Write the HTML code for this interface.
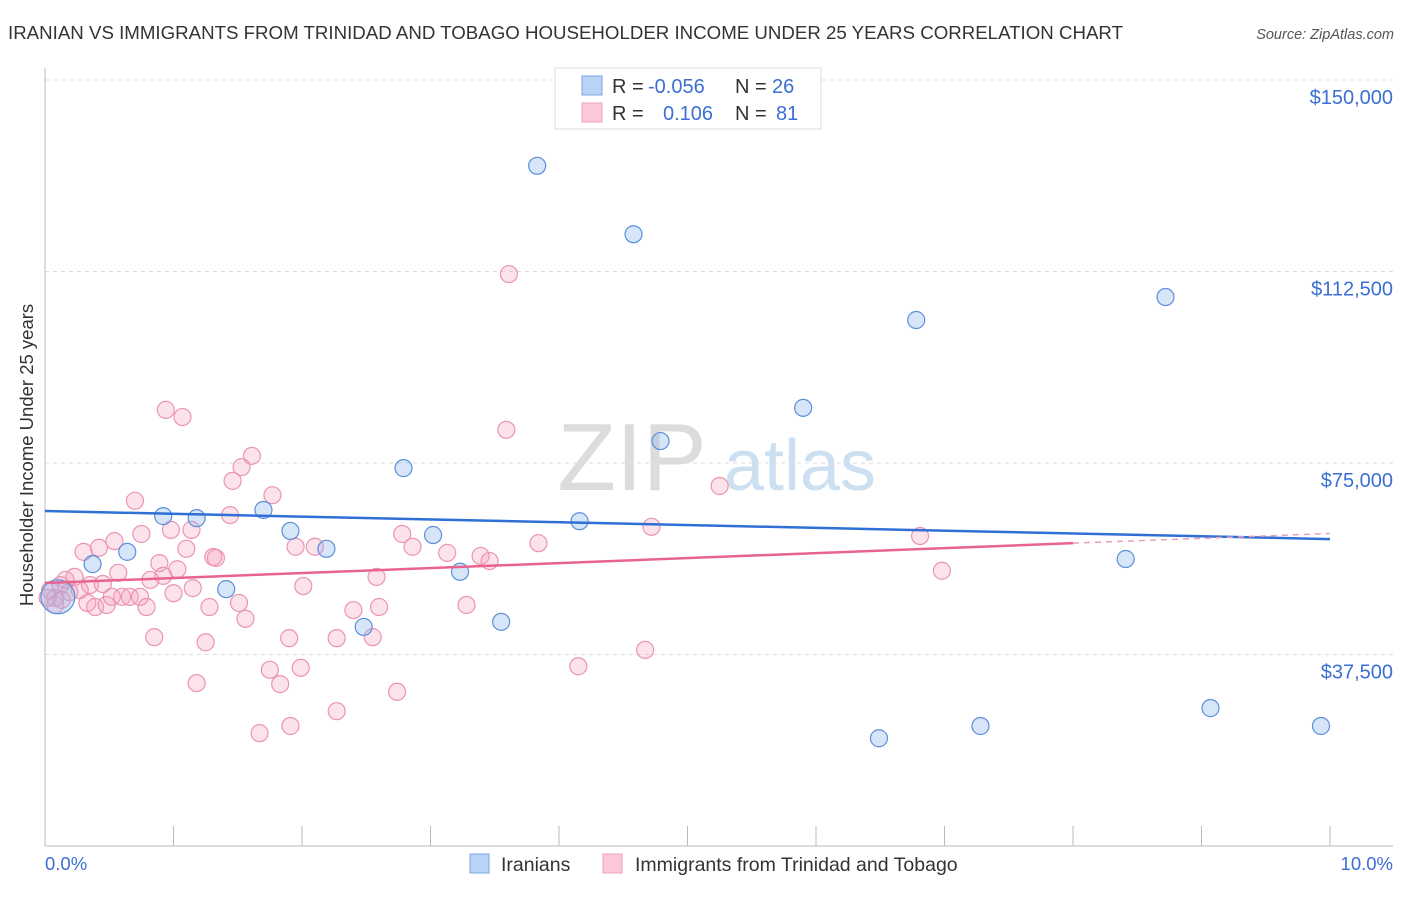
<!DOCTYPE html>
<html><head><meta charset="utf-8"><style>
body{margin:0;background:#fff;font-family:"Liberation Sans",sans-serif;}
svg text{font-family:"Liberation Sans",sans-serif;}
</style></head><body>
<svg id="chart" width="1406" height="892">
<text x="8" y="39" font-size="18.6" fill="#333" textLength="1115" lengthAdjust="spacingAndGlyphs">IRANIAN VS IMMIGRANTS FROM TRINIDAD AND TOBAGO HOUSEHOLDER INCOME UNDER 25 YEARS CORRELATION CHART</text>
<text x="1394" y="39" font-size="14.5" fill="#555" font-style="italic" text-anchor="end">Source: ZipAtlas.com</text>
<g><text x="632" y="490" font-size="96" font-family="Liberation Serif,serif" fill="#dcdcdc" text-anchor="middle">ZIP</text><text x="800" y="490" font-size="72" fill="#cde0f2" text-anchor="middle">atlas</text></g>
<g id="grid"></g>
<g id="axes"></g>
<g id="marks"></g>
<g>
<rect x="555" y="68" width="266" height="61" fill="#fff" stroke="#ddd"/>
<rect x="582" y="76" width="20" height="19" fill="#b8d3f5" stroke="#7aaae6"/>
<rect x="582" y="103" width="20" height="19" fill="#fcc8d8" stroke="#f0a0b8"/>
<text x="612" y="93" font-size="20" fill="#333">R =<tspan x="648" fill="#3b6fd4">-0.056</tspan><tspan x="735">N =</tspan><tspan x="772" fill="#3b6fd4">26</tspan></text>
<text x="612" y="120" font-size="20" fill="#333">R =<tspan x="663" fill="#3b6fd4">0.106</tspan><tspan x="735">N =</tspan><tspan x="776" fill="#3b6fd4">81</tspan></text>
</g>
<g>
<rect x="470" y="854" width="19" height="19" fill="#b8d3f5" stroke="#7aaae6"/>
<text x="501" y="871" font-size="19.5" fill="#333">Iranians</text>
<rect x="603" y="854" width="19" height="19" fill="#fcc8d8" stroke="#f0a0b8"/>
<text x="635" y="871" font-size="19.5" fill="#333">Immigrants from Trinidad and Tobago</text>
</g>
</svg>
<script>
const yTicks=[37.5,75,112.5,150];
const yTickLabels=["$37,500","$75,000","$112,500","$150,000"];
const xTicks=[0,1,2,3,4,5,6,7,8,9,10];
const xEndLabels=["0.0%","10.0%"];
const blueX=[3.83,4.58,6.78,8.72,5.90,4.79,2.79,4.16,3.02,3.23,3.55,2.48,1.70,1.18,0.92,0.64,0.37,0.10,1.41,1.91,2.19,8.41,6.49,7.28,9.07,9.93];
const blueY=[133.2,119.8,103.0,107.5,85.8,79.3,74.0,63.6,60.9,53.7,43.9,42.9,65.8,64.2,64.6,57.6,55.2,48.8,50.3,61.7,58.2,56.2,21.1,23.5,27.0,23.5];
const pinkX=[0.94,1.07,1.61,1.53,1.46,0.70,1.77,1.44,0.98,1.14,0.75,0.54,0.42,0.30,1.10,0.89,1.03,0.57,1.31,1.33,0.82,0.92,0.35,0.45,1.15,1.00,0.33,0.39,0.48,0.52,0.60,0.66,0.74,0.79,1.28,1.51,1.56,1.95,2.10,2.01,2.58,2.40,2.60,2.55,2.27,1.90,0.85,1.25,1.75,1.99,1.83,1.18,2.74,2.27,1.91,1.67,2.78,2.86,3.13,3.28,3.39,3.61,3.59,3.84,3.46,4.15,4.67,4.72,5.25,6.81,6.98,0.04,0.08,0.12,0.16,0.19,0.23,0.27,0.02,0.08,0.13];
const pinkY=[85.4,84.0,76.4,74.2,71.5,67.6,68.7,64.8,61.9,61.9,61.1,59.7,58.4,57.6,58.2,55.4,54.2,53.5,56.6,56.4,52.1,52.9,51.1,51.3,50.5,49.5,47.6,46.8,47.2,48.8,48.8,48.8,48.8,46.8,46.8,47.6,44.5,58.6,58.6,50.9,52.7,46.2,46.8,40.9,40.7,40.7,40.9,39.9,34.5,34.9,31.7,31.9,30.2,26.4,23.5,22.1,61.1,58.6,57.4,47.2,56.8,112.0,81.5,59.3,55.8,35.2,38.4,62.5,70.5,60.7,53.9,50.1,48.6,51.1,52.1,49.7,52.7,50.1,48.6,47.2,48.2];
const blueTrend=[65.6,60.1];
const pinkTrend=[51.5,59.3,61.2];
const pinkTrendX=[0,8,10];

const NS="http://www.w3.org/2000/svg";
const X0=45,X1=1330,YB=846,YT=80;
const sx=v=>X0+(X1-X0)*v/10;
const sy=v=>YB-(YB-YT)*v/150;
function mk(tag,attrs,parent){const e=document.createElementNS(NS,tag);for(const k in attrs)e.setAttribute(k,attrs[k]);parent.appendChild(e);return e;}
const grid=document.getElementById('grid'),axes=document.getElementById('axes'),marks=document.getElementById('marks');
yTicks.forEach((t,i)=>{
 const l=mk('line',{x1:X0,x2:1393,y1:sy(t),y2:sy(t),stroke:'#ddd','stroke-dasharray':'4,4'},grid);
 
 
 const tx=mk('text',{x:1393,y:sy(t)+24,'font-size':20,fill:'#3b6fd4','text-anchor':'end'},axes);
 tx.textContent=yTickLabels[i];
 
 
});
const ya=mk('line',{x1:X0,x2:X0,y1:68,y2:YB,stroke:'#bbb'},axes);


const xa=mk('line',{x1:X0,x2:1393,y1:YB,y2:YB,stroke:'#bbb'},axes);


xTicks.forEach(t=>{
 const l=mk('line',{x1:sx(t),x2:sx(t),y1:826,y2:YB,stroke:'#bbb'},axes);
 
 
});
const xl0=mk('text',{x:45,y:870,'font-size':18.5,fill:'#3b6fd4'},axes);xl0.textContent=xEndLabels[0];


const xl1=mk('text',{x:1393,y:870,'font-size':18.5,fill:'#3b6fd4','text-anchor':'end'},axes);xl1.textContent=xEndLabels[1];


const yt=mk('text',{transform:'translate(33,455) rotate(-90)','font-size':18.5,fill:'#333','text-anchor':'middle'},axes);
yt.textContent='Householder Income Under 25 years';


pinkX.forEach((x,i)=>{
 const c=mk('circle',{cx:sx(x),cy:sy(pinkY[i]),r:8.5,fill:'rgba(245,160,190,0.3)',stroke:'#eb94b2','stroke-width':1.2},marks);
 
 
});
blueX.forEach((x,i)=>{
 const c=mk('circle',{cx:sx(x),cy:sy(blueY[i]),r:i===17?17:8.5,fill:'rgba(140,180,235,0.35)',stroke:'#5b8fd9','stroke-width':1.2},marks);
 
 
});
const bt=mk('line',{x1:sx(0),y1:sy(blueTrend[0]),x2:sx(10),y2:sy(blueTrend[1]),stroke:'#2f6fd6','stroke-width':2.5},marks);


const pt=mk('line',{x1:sx(pinkTrendX[0]),y1:sy(pinkTrend[0]),x2:sx(pinkTrendX[1]),y2:sy(pinkTrend[1]),stroke:'#e8648f','stroke-width':2.5},marks);


const pd=mk('line',{x1:sx(pinkTrendX[1]),y1:sy(pinkTrend[1]),x2:sx(pinkTrendX[2]),y2:sy(pinkTrend[2]),stroke:'#e8a0b8','stroke-width':1.5,'stroke-dasharray':'6,5'},marks);


</script>
</body></html>
